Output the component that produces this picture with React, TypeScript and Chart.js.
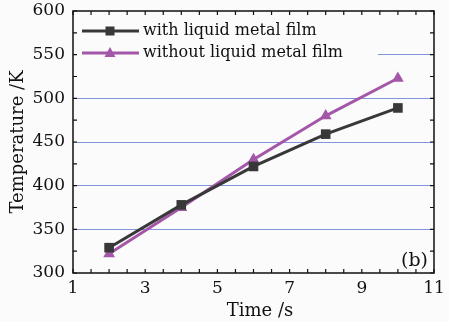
import React, { useEffect, useRef } from "react";
import { Chart, registerables } from "chart.js";

Chart.register(...registerables);

const times = [2, 4, 6, 8, 10];
const withFilm = [329, 378, 422, 459, 489];
const withoutFilm = [322, 375, 430, 480, 523];
const seriesLabels = ["with liquid metal film", "without liquid metal film"];
const xTickValues = [1, 3, 5, 7, 9, 11];
const yTickValues = [300, 350, 400, 450, 500, 550, 600];
const xTitle = "Time /s";

const SERIF = "'DejaVu Serif', serif";
const DARK = "#383838";
const PURPLE = "#a457a8";
const GRID = "#8393dc";
const BG = "#fbfbfb";

const framePlugin = {
  id: "frame",
  afterDatasetsDraw(chart: any) {
    const { ctx, chartArea } = chart;
    const { left, right, top, bottom } = chartArea;
    const xs = chart.scales.x;
    const ys = chart.scales.y;
    ctx.save();
    // legend box
    ctx.fillStyle = BG;
    ctx.fillRect(left + 1, top + 1, 378 - left - 1, 58);
    const rows = [top + 20, top + 42];
    chart.data.datasets.forEach((ds: any, i: number) => {
      const y = rows[i];
      ctx.strokeStyle = ds.borderColor;
      ctx.lineWidth = 3;
      ctx.beginPath();
      ctx.moveTo(left + 9, y);
      ctx.lineTo(left + 66, y);
      ctx.stroke();
      const cx = left + 37;
      ctx.fillStyle = ds.borderColor;
      if (i === 0) {
        ctx.fillRect(cx - 4.5, y - 4.5, 9, 9);
      } else {
        ctx.beginPath();
        ctx.moveTo(cx, y - 6);
        ctx.lineTo(cx + 5.5, y + 4);
        ctx.lineTo(cx - 5.5, y + 4);
        ctx.closePath();
        ctx.fill();
      }
      ctx.fillStyle = "#111";
      ctx.font = "16px " + SERIF;
      ctx.textBaseline = "middle";
      ctx.textAlign = "left";
      ctx.fillText(ds.label, left + 70, y);
    });
    // frame
    ctx.strokeStyle = "#111";
    ctx.lineWidth = 1.5;
    ctx.strokeRect(left, top, right - left, bottom - top);
    // ticks
    ctx.lineWidth = 1.2;
    ctx.beginPath();
    for (let v = 1; v <= 11.001; v += 0.5) {
      const px = xs.getPixelForValue(v);
      ctx.moveTo(px, bottom);
      ctx.lineTo(px, bottom - 4);
      ctx.moveTo(px, top);
      ctx.lineTo(px, top + 4);
    }
    for (let v = 300; v <= 600; v += 25) {
      const py = ys.getPixelForValue(v);
      ctx.moveTo(left, py);
      ctx.lineTo(left + 4, py);
      ctx.moveTo(right, py);
      ctx.lineTo(right - 4, py);
    }
    ctx.stroke();
    ctx.fillStyle = "#111";
    ctx.font = "19px " + SERIF;
    ctx.textAlign = "right";
    ctx.textBaseline = "alphabetic";
    ctx.fillText("(b)", right - 6, bottom - 7);
    // x title
    ctx.font = "18px " + SERIF;
    ctx.textAlign = "center";
    ctx.fillText(xTitle, 260, 316);
    ctx.restore();
  },
};

export default function App() {
  const canvasRef = useRef<HTMLCanvasElement>(null);
  useEffect(() => {
    const canvas = canvasRef.current!;
    const chart = new Chart(canvas, {
      type: "line",
      data: {
        datasets: [
          {
            label: seriesLabels[0],
            data: times.map((t, i) => ({ x: t, y: withFilm[i] })),
            borderColor: DARK,
            backgroundColor: DARK,
            borderWidth: 3,
            pointStyle: "rect",
            pointRadius: 6.8,
            pointBorderWidth: 0,
          },
          {
            label: seriesLabels[1],
            data: times.map((t, i) => ({ x: t, y: withoutFilm[i] })),
            borderColor: PURPLE,
            backgroundColor: PURPLE,
            borderWidth: 3,
            pointStyle: "triangle",
            pointRadius: 6.8,
            pointBorderWidth: 0,
          },
        ],
      },
      options: {
        animation: false,
        responsive: false,
        layout: { padding: { top: 11, right: 15, left: 0, bottom: 0 } },
        plugins: { legend: { display: false }, tooltip: { enabled: false } },
        scales: {
          x: {
            type: "linear",
            min: 1,
            max: 11,
            afterBuildTicks: (s: any) => {
              s.ticks = xTickValues.map((v) => ({ value: v }));
            },
            afterFit: (s: any) => {
              s.height = 49;
              s.paddingLeft = 0;
              s.paddingRight = 0;
            },
            grid: { display: false, drawTicks: false },
            border: { display: false },
            ticks: {
              color: "#111",
              font: { family: SERIF, size: 17 },
              padding: 5,
              maxRotation: 0,
              autoSkip: false,
            },
            title: { display: false },
          },
          y: {
            type: "linear",
            min: 300,
            max: 600,
            afterBuildTicks: (s: any) => {
              s.ticks = yTickValues.map((v) => ({ value: v }));
            },
            afterFit: (s: any) => {
              s.width = 73;
              s.paddingTop = 0;
              s.paddingBottom = 0;
            },
            grid: {
              drawTicks: false,
              lineWidth: 1,
              color: (c: any) =>
                c.tick && (c.tick.value === 300 || c.tick.value === 600) ? "rgba(0,0,0,0)" : GRID,
            },
            border: { display: false },
            ticks: {
              color: "#111",
              font: { family: SERIF, size: 17 },
              padding: 8,
              autoSkip: false,
            },
            title: {
              display: true,
              text: "Temperature /K",
              color: "#111",
              font: { family: SERIF, size: 18 },
              padding: { top: 8, bottom: 0 },
            },
          },
        },
      },
      plugins: [framePlugin],
    } as any);
    return () => chart.destroy();
  }, []);
  return (
    <div style={{ position: "fixed", left: 0, top: 0, width: 449, height: 322, background: BG }}>
      <canvas ref={canvasRef} width={449} height={322} style={{ display: "block" }} />
    </div>
  );
}
